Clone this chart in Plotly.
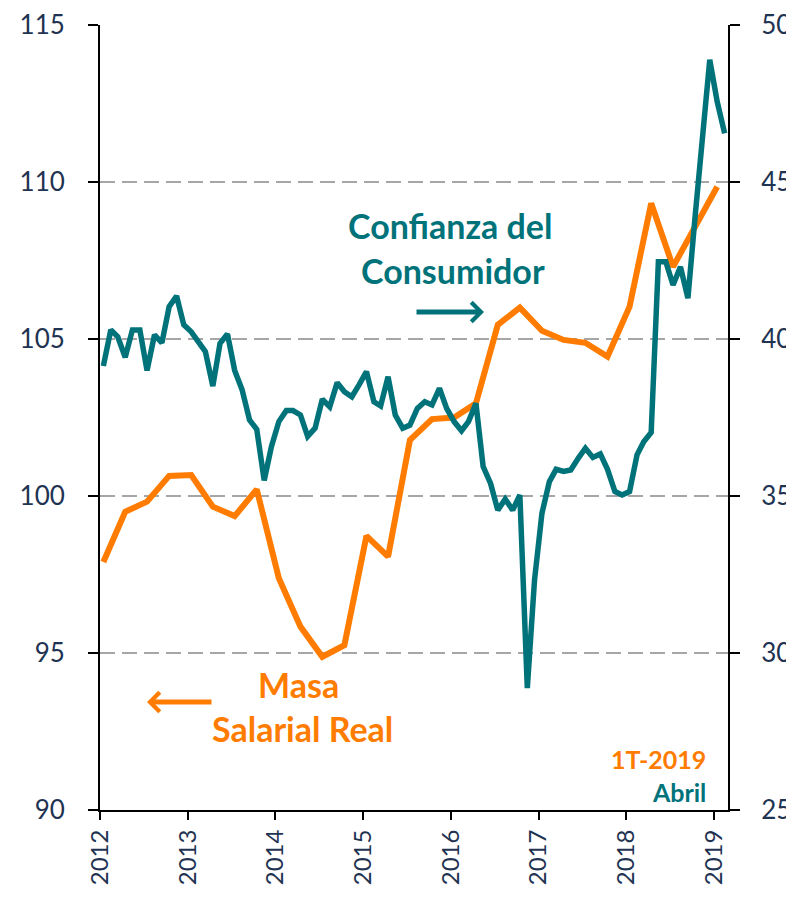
import pandas as pd
import plotly.graph_objects as go

# ---- data ----
# Confianza del Consumidor (monthly, right axis)
conf_months = pd.date_range("2012-01-01", periods=86, freq="MS") + pd.Timedelta(days=14)
conf_values = [
    39.14, 40.29, 40.07, 39.42, 40.29, 40.29, 39.00, 40.13, 39.88, 41.03, 41.37, 40.45,
    40.23, 39.91, 39.60, 38.50, 39.86, 40.16, 39.00, 38.38, 37.42, 37.12, 35.50, 36.57,
    37.37, 37.72, 37.72, 37.58, 36.90, 37.16, 38.08, 37.84, 38.61, 38.32, 38.16, 38.54,
    38.96, 38.00, 37.87, 38.80, 37.58, 37.16, 37.26, 37.79, 38.00, 37.90, 38.43, 37.79,
    37.37, 37.08, 37.37, 37.95, 35.94, 35.40, 34.55, 34.90, 34.55, 35.03, 28.88, 32.32,
    34.45, 35.46, 35.85, 35.78, 35.83, 36.20, 36.52, 36.23, 36.34, 35.85, 35.14, 35.03,
    35.14, 36.31, 36.73, 37.02, 42.46, 42.46, 41.72, 42.30, 41.30, 43.90, 46.40, 48.89,
    47.56, 46.55,
]

# Masa Salarial Real (quarterly, left axis)
masa_quarters = pd.date_range("2012-01-01", periods=29, freq="QS") + pd.Timedelta(days=14)
masa_values = [
    97.90, 99.50, 99.82, 100.64, 100.67, 99.66, 99.36, 100.21, 97.38, 95.84, 94.88, 95.25,
    98.73, 98.07, 101.78, 102.45, 102.50, 102.95, 105.45, 106.00, 105.26, 104.97, 104.88,
    104.44, 106.03, 109.32, 107.30, 108.58, 109.85,
]

left_ticks = [90, 95, 100, 105, 110, 115]
right_ticks = [25, 30, 35, 40, 45, 50]
year_ticks = [f"{y}-01-01" for y in range(2012, 2020)]
year_labels = [str(y) for y in range(2012, 2020)]

TEAL = "#00737A"
ORANGE = "#FF7C00"
NAVY = "#1F3352"
FONT = "Lato"

fig = go.Figure()
fig.add_trace(go.Scatter(
    x=masa_quarters, y=masa_values, mode="lines", yaxis="y",
    line=dict(color=ORANGE, width=6), name="Masa Salarial Real", showlegend=False,
))
fig.add_trace(go.Scatter(
    x=conf_months, y=conf_values, mode="lines", yaxis="y2",
    line=dict(color=TEAL, width=5.5), name="Confianza del Consumidor", showlegend=False,
))

axis_font = dict(family=FONT, size=26, color=NAVY)
year_font = dict(family=FONT, size=24, color=NAVY)

# page body adds an 8px offset; keep the page from overflowing the window
fig.update_layout(
    width=786, height=881,
    margin=dict(l=92, r=66, t=17, b=79),
    paper_bgcolor="white", plot_bgcolor="white",
    xaxis=dict(
        type="date", range=["2012-01-01", "2019-03-01"], automargin=False,
        tickvals=year_ticks, ticktext=year_labels, tickangle=-90,
        showgrid=False, showline=True, linecolor="black", linewidth=2,
        ticks="outside", ticklen=8, tickwidth=2, tickcolor="black",
        tickfont=year_font, ticklabelstandoff=0, zeroline=False,
    ),
    yaxis=dict(
        range=[90, 115], tickvals=left_ticks, showline=True, linecolor="black",
        linewidth=2, ticks="outside", ticklen=10, tickwidth=2, tickcolor="black",
        tickfont=axis_font, ticklabelstandoff=18, showgrid=True, automargin=False,
        gridcolor="#A6A6A6", gridwidth=2, griddash="15px,7px", zeroline=False,
    ),
    yaxis2=dict(
        range=[25, 50], tickvals=right_ticks, overlaying="y", side="right",
        showline=True, linecolor="black", linewidth=2, ticks="outside", ticklen=10,
        tickwidth=2, tickcolor="black", tickfont=axis_font, ticklabelstandoff=16,
        showgrid=False, zeroline=False, automargin=False,
    ),
)

def px_x(px):
    return (px - 100) / 628.0

def px_y(py):
    return (810 - py) / 785.0

label_font_teal = dict(family=FONT, size=34, color=TEAL, weight="bold")
label_font_orange = dict(family=FONT, size=34, color=ORANGE, weight="bold")

annots = [
    dict(text="Confianza del", x=px_x(450), y=px_y(225), font=label_font_teal),
    dict(text="Consumidor", x=px_x(453), y=px_y(270), font=label_font_teal),
    dict(text="Masa", x=px_x(298), y=px_y(684), font=label_font_orange),
    dict(text="Salarial Real", x=px_x(302), y=px_y(728), font=label_font_orange),
]
for a in annots:
    fig.add_annotation(xref="paper", yref="paper", showarrow=False,
                       xanchor="center", yanchor="middle", **a)

fig.add_annotation(
    xref="paper", yref="paper", x=px_x(708), y=px_y(775),
    text=(f"<span style='color:{ORANGE}'>1T-2019</span><br>"
          f"<span style='color:{TEAL}'>Abril</span>"),
    showarrow=False, xanchor="right", yanchor="middle", align="right",
    font=dict(family=FONT, size=25, weight="bold"),
)

# arrows
fig.add_annotation(xref="paper", yref="paper", x=px_x(484), y=px_y(312), text="",
                   showarrow=True, ax=-69, ay=0, arrowhead=4, arrowsize=0.75,
                   arrowwidth=5, arrowcolor=TEAL)
fig.add_annotation(xref="paper", yref="paper", x=px_x(147), y=px_y(702), text="",
                   showarrow=True, ax=66, ay=0, arrowhead=4, arrowsize=0.75,
                   arrowwidth=5, arrowcolor=ORANGE)

fig.write_html("out.html")
